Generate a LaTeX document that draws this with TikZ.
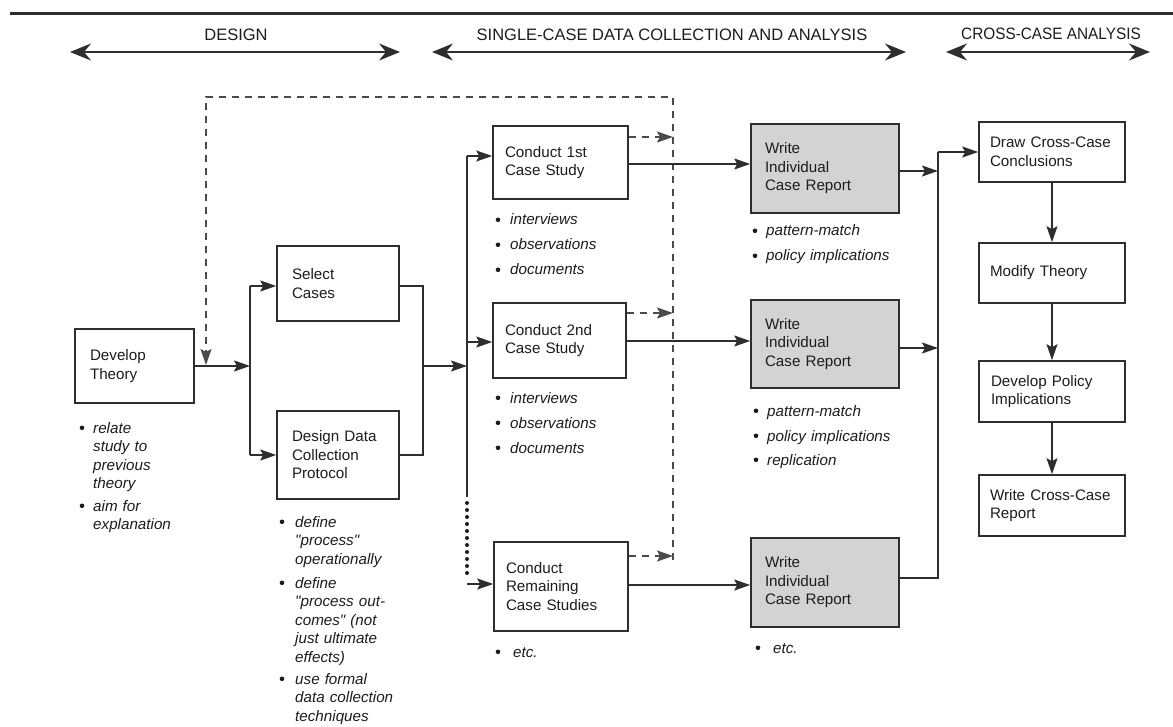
\documentclass[tikz,border=0pt]{standalone}
\usepackage{fontspec}
\setmainfont{Liberation Sans}
\usetikzlibrary{arrows.meta}
\definecolor{ink}{HTML}{1E1B1C}
\definecolor{edge}{HTML}{2E2E2E}
\definecolor{shade}{HTML}{D3D3D5}
\definecolor{dashc}{HTML}{4A4A4A}
\newcommand{\boxfont}{\fontsize{15.2}{18.5}\selectfont}
\newcommand{\hdrfont}{\fontsize{16.5}{19}\selectfont}
% name, cx, cy, W, H, pad, text
\newcommand{\bx}[8][]{\node[box,#1,minimum height=#6pt,text width=#5pt-2*#7pt,inner xsep=#7pt] (#2) at (#3,#4) {#8};}
% name, bullet x, text x, baseline y, text
\newcommand{\bli}[5]{\node[bdot] (#1d) at (#2,#4-5.2) {};\node[btext] (#1) at (#3,#4) {#5};}
\newcommand{\qq}{\XeTeXglyph\XeTeXcharglyph"0022\relax}
\begin{document}
\begin{tikzpicture}[x=1pt,y=-1pt,
  every node/.style={text=ink},
  box/.style={draw=edge, line width=1.6pt, align=left, inner ysep=0pt, font=\boxfont, anchor=center},
  grey/.style={fill=shade},
  conn/.style={draw=edge, line width=1.6pt},
  arr/.style={conn, -{Stealth[length=16pt,width=11pt,inset=3pt]}},
  dsh/.style={draw=dashc, line width=1.6pt, dash pattern=on 7pt off 6pt},
  darr/.style={dsh, -{Stealth[length=16pt,width=11pt,inset=3pt]}},
  dots/.style={draw=ink, line width=4pt, line cap=round, dash pattern=on 0pt off 7pt},
  hdr/.style={font=\hdrfont, anchor=base, inner sep=0pt},
  harr/.style={draw=edge, line width=2pt, {Stealth[length=21pt,width=17pt,inset=7pt]}-{Stealth[length=21pt,width=17pt,inset=7pt]}},
  bdot/.style={circle, fill=ink, inner sep=0pt, minimum size=4.6pt},
  btext/.style={font=\boxfont\itshape, anchor=base west, inner sep=0pt, text width=150pt, align=left},
]
\useasboundingbox (0,0) rectangle (1173,727);

% header
\coordinate (hl) at (10,13.5);
\coordinate (hr) at (1173,13.5);
\draw[edge, line width=3.5pt] (hl) -- (hr);
\node[hdr] (hD) at (236,40.5) {DESIGN};
\node[hdr] (hS) at (672,40.5) {SINGLE-CASE DATA COLLECTION AND ANALYSIS};
\node[hdr] (hC) at (1051,39.5) {\scalebox{0.93}[1]{CROSS-CASE ANALYSIS}};
\coordinate (hDl) at (70,52); \coordinate (hDr) at (400,52);
\coordinate (hSl) at (432,52); \coordinate (hSr) at (906,52);
\coordinate (hCl) at (946,52); \coordinate (hCr) at (1150,52);
\draw[harr] (hDl) -- (hDr);
\draw[harr] (hSl) -- (hSr);
\draw[harr] (hCl) -- (hCr);

% boxes
\bx{DT}{134.5}{366}{119}{74}{15}{Develop\\Theory}
\bx{SC}{338}{283.5}{122}{75}{15}{Select\\Cases}
\bx{DD}{338}{455}{122}{88}{15}{Design Data\\Collection\\Protocol}
\bx{C1}{560.5}{162.5}{135}{73}{12}{Conduct 1st\\Case Study}
\bx{C2}{559.5}{340.5}{133}{75}{12}{Conduct 2nd\\Case Study}
\bx{CR}{561}{586.5}{134}{89}{12}{Conduct\\Remaining\\Case Studies}
\bx[grey]{W1}{825}{168.5}{148}{89}{14}{Write\\Individual\\Case Report}
\bx[grey]{W2}{825}{344}{148}{88}{14}{Write\\Individual\\Case Report}
\bx[grey]{W3}{825}{582.5}{148}{89}{14}{Write\\Individual\\Case Report}
\bx{DC}{1052}{152}{146}{60}{11}{Draw Cross-Case\\Conclusions}
\bx{MT}{1052}{273}{146}{60}{11}{Modify Theory}
\bx{DP}{1052}{391.5}{146}{61}{12}{Develop Policy\\Implications}
\bx{WC}{1052}{505.5}{146}{61}{11}{Write Cross-Case\\Report}

% bullet lists
\bli{dt1}{82}{93}{433}{relate\\study to\\previous\\theory}
\bli{dt2}{82}{93}{511}{aim for\\explanation}
\bli{dd1}{282}{295}{527}{define\\\qq process\qq\\operationally}
\bli{dd2}{282}{295}{588}{define\\\qq process out-\\comes\qq\ (not\\just ultimate\\effects)}
\bli{dd3}{282}{295}{684}{use formal\\data collection\\techniques}
\bli{ca1}{498}{510}{225}{interviews}
\bli{ca2}{498}{510}{250}{observations}
\bli{ca3}{498}{510}{275}{documents}
\bli{cb1}{498}{510}{403}{interviews}
\bli{cb2}{498}{510}{428}{observations}
\bli{cb3}{498}{510}{453}{documents}
\bli{cc1}{498}{513}{657}{etc.}
\bli{wa1}{755}{766}{236}{pattern-match}
\bli{wa2}{755}{766}{261}{policy implications}
\bli{wb1}{756}{767}{416}{pattern-match}
\bli{wb2}{756}{767}{441}{policy implications}
\bli{wb3}{756}{767}{465}{replication}
\bli{wc1}{758}{773}{653}{etc.}

% dashed feedback loop
\coordinate (dv1) at (673,137);
\coordinate (dv2) at (673,313);
\coordinate (dv3) at (673,556);
\coordinate (dvb) at (673,560);
\coordinate (dtr) at (673,97);
\coordinate (dtl) at (206,97);
\coordinate (dend) at (206,365);
\draw[darr] (dvb) -- (dtr) -- (dtl) -- (dend);
\draw[darr] (dv1 -| C1.east) -- (dv1);
\draw[darr] (dv2 -| C2.east) -- (dv2);
\draw[darr] (dv3 -| CR.east) -- (dv3);

% design connectors
\coordinate (jA) at (250,366);
\coordinate (jAt) at (250,286);
\coordinate (jAb) at (250,455);
\draw[arr] (DT.east) -- (jA);
\draw[conn] (jAt) -- (jAb);
\draw[arr] (jAt) -- (jAt -| SC.west);
\draw[arr] (jAb) -- (DD.west);
\coordinate (kT) at (423,286);
\coordinate (kB) at (423,455);
\coordinate (kM) at (423,366);
\draw[conn] (kT -| SC.east) -- (kT) -- (kB) -- (DD.east);

% single-case connectors
\coordinate (jB) at (467,366);
\coordinate (jBt) at (467,156);
\coordinate (jB2) at (467,342);
\coordinate (jBs) at (467,497);
\coordinate (jBd0) at (467,503);
\coordinate (jBd1) at (467,577);
\coordinate (jBr) at (467,584);
\draw[arr] (kM) -- (jB);
\draw[conn] (jBt) -- (jBs);
\draw[dots] (jBd0) -- (jBd1);
\draw[arr] (jBt) -- (jBt -| C1.west);
\draw[arr] (jB2) -- (jB2 -| C2.west);
\draw[arr] (jBr) -- (jBr -| CR.west);
\coordinate (h1) at (700,164);
\coordinate (h2) at (700,341);
\coordinate (h3) at (700,585);
\draw[arr] (h1 -| C1.east) -- (h1 -| W1.west);
\draw[arr] (h2 -| C2.east) -- (h2 -| W2.west);
\draw[arr] (h3 -| CR.east) -- (h3 -| W3.west);

% cross-case connectors
\coordinate (m1) at (938,171);
\coordinate (m2) at (938,348);
\coordinate (m3) at (938,578);
\coordinate (mt) at (938,152);
\draw[arr] (m1 -| W1.east) -- (m1);
\draw[arr] (m2 -| W2.east) -- (m2);
\draw[conn] (m3 -| W3.east) -- (m3) -- (mt);
\draw[arr] (mt) -- (DC.west);
\draw[arr] (DC) -- (MT);
\draw[arr] (MT) -- (DP);
\draw[arr] (DP) -- (WC);
\end{tikzpicture}
\end{document}
